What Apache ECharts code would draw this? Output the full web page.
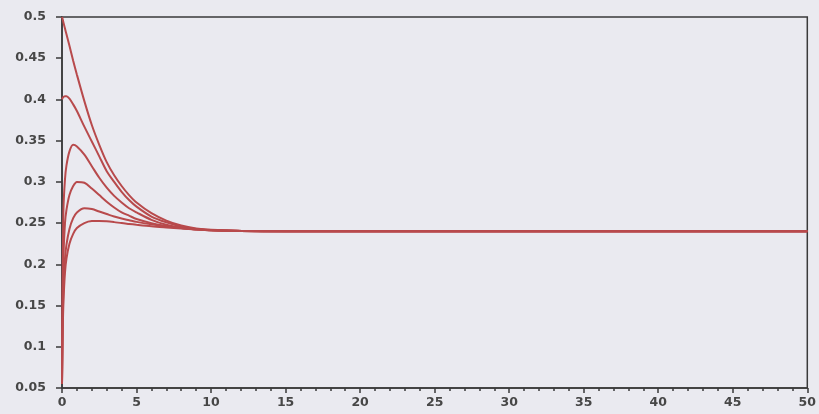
<!DOCTYPE html>
<html>
<head>
<meta charset="utf-8">
<script src="https://cdn.jsdelivr.net/npm/echarts@6/dist/echarts.min.js"></script>
<style>
html,body{margin:0;padding:0;background:#eaeaf0;}
#chart{width:819px;height:414px;}
</style>
</head>
<body>
<div id="chart"></div>
<script>
var tValues = [0,0.05,0.1,0.2,0.3,0.5,0.75,1,1.5,2,2.5,3,3.5,4,4.5,5,6,7,8,9,10,12,15,20,30,40,50];

var curve1 = [0.5,0.497,0.493,0.486,0.479,0.465,0.447,0.430,0.398,0.369,0.345,0.324,0.308,0.295,0.284,0.275,0.262,0.253,0.247,0.2435,0.2418,0.2406,0.2402,0.240,0.240,0.240,0.240];
var curve2 = [0.400,0.402,0.403,0.404,0.404,0.401,0.394,0.386,0.367,0.349,0.331,0.313,0.300,0.288,0.278,0.270,0.258,0.251,0.246,0.243,0.2415,0.2405,0.2401,0.240,0.240,0.240,0.240];
var curve3 = [0.055,0.200,0.268,0.303,0.320,0.337,0.345,0.343,0.333,0.319,0.305,0.293,0.283,0.275,0.268,0.263,0.254,0.248,0.2445,0.2425,0.2413,0.2404,0.2401,0.240,0.240,0.240,0.240];
var curve4 = [0.055,0.165,0.212,0.250,0.266,0.284,0.295,0.300,0.299,0.292,0.284,0.276,0.269,0.263,0.259,0.255,0.250,0.2465,0.244,0.2423,0.2412,0.2404,0.2401,0.240,0.240,0.240,0.240];
var curve5 = [0.055,0.135,0.172,0.207,0.224,0.243,0.256,0.263,0.268,0.267,0.264,0.261,0.258,0.2555,0.2535,0.2515,0.2485,0.246,0.2442,0.2425,0.2413,0.2404,0.2401,0.240,0.240,0.240,0.240];
var curve6 = [0.055,0.120,0.155,0.190,0.207,0.225,0.237,0.244,0.250,0.2525,0.2527,0.2522,0.2512,0.250,0.249,0.248,0.2462,0.2448,0.2435,0.2422,0.2412,0.2404,0.2401,0.240,0.240,0.240,0.240];

var curves = [curve1, curve2, curve3, curve4, curve5, curve6];

function pairs(vals){
  return tValues.map(function(t,i){ return [t, vals[i]]; });
}

var chart = echarts.init(document.getElementById('chart'), null, {renderer:'canvas'});
var labelStyle = {color:'#474747', fontFamily:'DejaVu Sans', fontWeight:'bold', fontSize:12.5};
chart.setOption({
  backgroundColor:'#eaeaf0',
  animation:false,
  grid:{left:62, right:11, top:17, bottom:26, show:true, borderColor:'#3a3a3a', borderWidth:1.5, backgroundColor:'transparent'},
  xAxis:{
    type:'value', min:0, max:50, interval:5,
    axisLine:{show:true, onZero:false, lineStyle:{color:'#3a3a3a', width:1.5}},
    axisTick:{show:true, inside:false, length:5, lineStyle:{color:'#3a3a3a', width:1.5}},
    minorTick:{show:true, splitNumber:5, length:3, lineStyle:{color:'#3a3a3a', width:1.5}},
    axisLabel:Object.assign({margin:8}, labelStyle),
    splitLine:{show:false}
  },
  yAxis:{
    type:'value', min:0.05, max:0.5, interval:0.05,
    axisLine:{show:true, onZero:false, lineStyle:{color:'#3a3a3a', width:1.5}},
    axisTick:{show:true, inside:false, length:6, lineStyle:{color:'#3a3a3a', width:1.5}},
    axisLabel:Object.assign({margin:16, formatter:function(v){return String(parseFloat(v.toFixed(2)));}}, labelStyle),
    splitLine:{show:false}
  },
  series: curves.map(function(c){
    return {type:'line', data:pairs(c), showSymbol:false, smooth:0.3,
      lineStyle:{color:'#b84a4c', width:2}, silent:true};
  })
});
</script>
</body>
</html>
